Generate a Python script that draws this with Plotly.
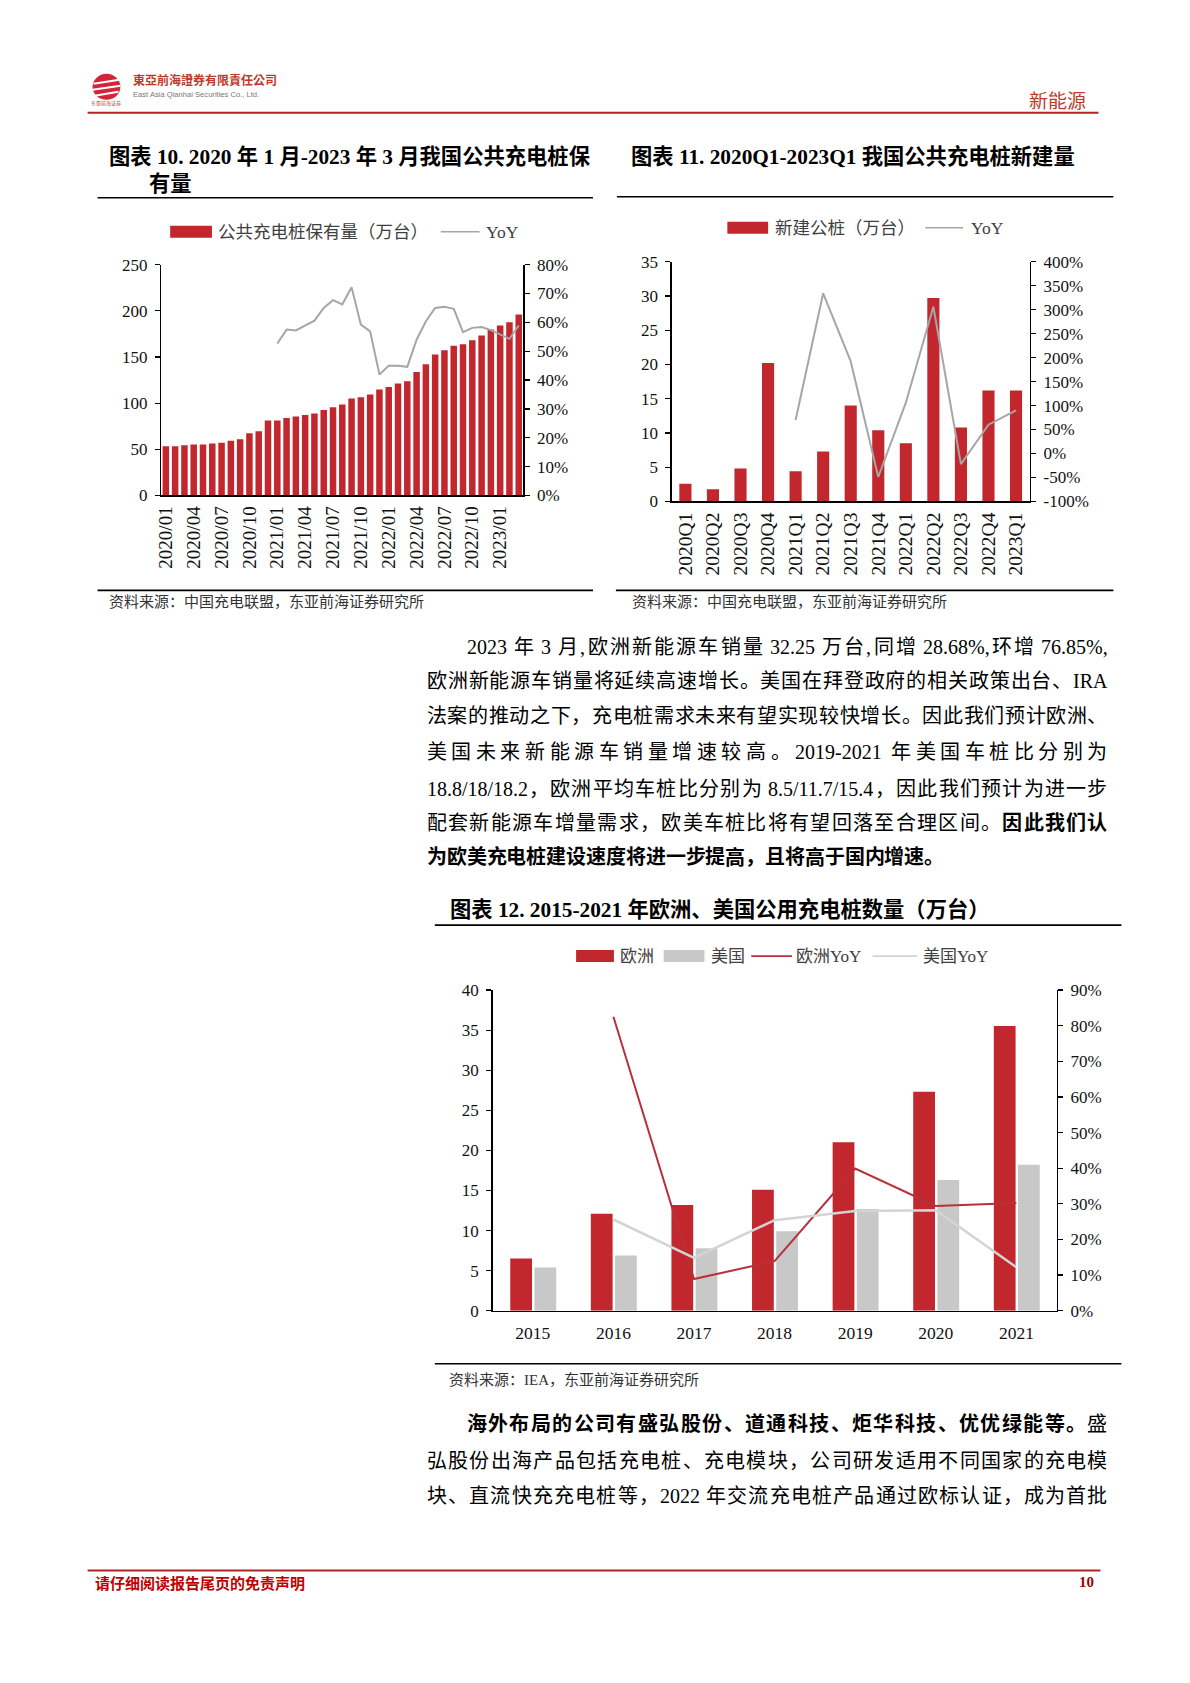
import plotly.graph_objects as go

W, H = 1190, 1683
def X(px): return (px - 4) / W
def Y(py):
    corr = -8 + (py - 113) * 0.0105
    return 1 - (py + corr) / H

SERIF = "Liberation Serif, Noto Sans CJK SC"
RED = "#C1272D"
GRAY_LINE = "#A6A6A6"

# ---------------- data: chart 10 ----------------
months = ["2020/01","2020/02","2020/03","2020/04","2020/05","2020/06","2020/07","2020/08","2020/09",
          "2020/10","2020/11","2020/12","2021/01","2021/02","2021/03","2021/04","2021/05","2021/06",
          "2021/07","2021/08","2021/09","2021/10","2021/11","2021/12","2022/01","2022/02","2022/03",
          "2022/04","2022/05","2022/06","2022/07","2022/08","2022/09","2022/10","2022/11","2022/12",
          "2023/01","2023/02","2023/03"]
month_ticks = ["2020/01","2020/04","2020/07","2020/10","2021/01","2021/04","2021/07","2021/10",
               "2022/01","2022/04","2022/07","2022/10","2023/01"]
pile_stock = [53.4,53.4,54.5,55.2,55.2,56.3,57.0,59.2,61.0,67.5,69.6,81.2,81.2,84.0,85.5,87.3,88.7,
              92.7,95.6,98.5,105.0,106.4,109.3,114.7,117.6,121.2,123.7,133.8,142.1,152.6,157.3,162.3,
              163.8,168.1,173.2,179.7,184.0,187.6,195.9]
pile_yoy = [None]*12 + [52.7,57.5,57.2,58.9,60.6,65.0,67.7,66.2,72.2,59.2,56.9,41.9,45.0,45.0,44.6,
                        54.0,60.4,65.0,65.4,64.7,56.6,58.1,58.4,57.3,55.8,54.3,58.9]
c10_left_ticks = [0, 50, 100, 150, 200, 250]
c10_right_ticks = [0, 10, 20, 30, 40, 50, 60, 70, 80]

# ---------------- data: chart 11 ----------------
quarters = ["2020Q1","2020Q2","2020Q3","2020Q4","2021Q1","2021Q2","2021Q3","2021Q4",
            "2022Q1","2022Q2","2022Q3","2022Q4","2023Q1"]
new_build = [2.6,1.8,4.8,20.2,4.4,7.3,14.0,10.4,8.5,29.7,10.8,16.2,16.2]
new_yoy = [None]*4 + [70,334,192,-49,106,306,-22,60,90]
c11_left_ticks = [0, 5, 10, 15, 20, 25, 30, 35]
c11_right_ticks = [-100, -50, 0, 50, 100, 150, 200, 250, 300, 350, 400]

# ---------------- data: chart 12 ----------------
years = ["2015","2016","2017","2018","2019","2020","2021"]
eu = [6.5,12.1,13.2,15.1,21.0,27.3,35.5]
us = [5.4,6.9,7.8,9.9,12.7,16.3,18.2]
eu_yoy = [None,82.5,8.9,13.9,39.9,29.4,30.2]
us_yoy = [None,25.6,14.8,25.4,28.0,28.2,12.2]
c12_left_ticks = [0, 5, 10, 15, 20, 25, 30, 35, 40]
c12_right_ticks = [0, 10, 20, 30, 40, 50, 60, 70, 80, 90]

fig = go.Figure()

# chart 10
fig.add_trace(go.Bar(x=months, y=pile_stock, marker_color=RED, marker_line_width=0, width=0.7,
                     xaxis="x", yaxis="y", showlegend=False, name="公共充电桩保有量（万台）"))
fig.add_trace(go.Scatter(x=months, y=pile_yoy, mode="lines", line=dict(color=GRAY_LINE, width=2),
                         xaxis="x", yaxis="y2", showlegend=False, name="YoY"))
# chart 11
fig.add_trace(go.Bar(x=quarters, y=new_build, marker_color=RED, marker_line_width=0, width=0.44,
                     xaxis="x2", yaxis="y3", showlegend=False, name="新建公桩（万台）"))
fig.add_trace(go.Scatter(x=quarters, y=new_yoy, mode="lines", line=dict(color=GRAY_LINE, width=2),
                         xaxis="x2", yaxis="y4", showlegend=False, name="YoY"))
# chart 12
fig.add_trace(go.Bar(x=years, y=eu, marker_color=RED, marker_line_width=0, width=0.27, offset=-0.28,
                     xaxis="x3", yaxis="y5", showlegend=False, name="欧洲"))
fig.add_trace(go.Bar(x=years, y=us, marker_color="#C8C8C8", marker_line_width=0, width=0.27, offset=0.02,
                     xaxis="x3", yaxis="y5", showlegend=False, name="美国"))
fig.add_trace(go.Scatter(x=years, y=eu_yoy, mode="lines", line=dict(color="#B8303A", width=2),
                         xaxis="x3", yaxis="y6", showlegend=False, name="欧洲YoY"))
fig.add_trace(go.Scatter(x=years, y=us_yoy, mode="lines", line=dict(color="#D4D4D4", width=2.5),
                         xaxis="x3", yaxis="y6", showlegend=False, name="美国YoY"))

def pct(v):
    return [f"{t}%" for t in v]

tf = dict(family=SERIF, size=17, color="#111")
ax_common = dict(showline=True, linecolor="#000", linewidth=1.3, showgrid=False, zeroline=False,
                 tickfont=tf, fixedrange=True)
yl = dict(ax_common, ticks="outside", ticklen=5, tickcolor="#000", tickwidth=1.2, ticklabelstandoff=4)

fig.update_layout(
    width=W, height=H, autosize=False, margin=dict(l=0, r=0, t=0, b=0),
    paper_bgcolor="white", plot_bgcolor="white", barmode="overlay", showlegend=False,
    xaxis=dict(ax_common, domain=[X(160), X(524)], anchor="y", type="category", range=[-0.5, 38.5],
               tickmode="array", tickvals=month_ticks, tickangle=-90, ticks="", ticklabelstandoff=2,
               tickfont=dict(family=SERIF, size=19, color="#111")),
    yaxis=dict(yl, domain=[Y(496), Y(265)], anchor="x", range=[0, 250], tickmode="array",
               tickvals=c10_left_ticks),
    yaxis2=dict(yl, overlaying="y", anchor="x", side="right", range=[0, 80], tickmode="array",
                tickvals=c10_right_ticks, ticktext=pct(c10_right_ticks)),
    xaxis2=dict(ax_common, domain=[X(673), X(1033)], anchor="y3", type="category", range=[-0.5, 12.5],
                tickangle=-90, ticks="", ticklabelstandoff=2,
                tickfont=dict(family=SERIF, size=19.5, color="#111")),
    yaxis3=dict(yl, domain=[Y(502), Y(262)], anchor="x2", range=[0, 35], tickmode="array",
                tickvals=c11_left_ticks),
    yaxis4=dict(yl, overlaying="y3", anchor="x2", side="right", range=[-100, 400], tickmode="array",
                tickvals=c11_right_ticks, ticktext=pct(c11_right_ticks)),
    xaxis3=dict(ax_common, domain=[X(493), X(1060)], anchor="y5", type="category", range=[-0.5, 6.5],
                tickangle=0, ticks="", ticklabelstandoff=6,
                tickfont=dict(family=SERIF, size=17.5, color="#111")),
    yaxis5=dict(yl, domain=[Y(1312), Y(991)], anchor="x3", range=[0, 40], tickmode="array",
                tickvals=c12_left_ticks),
    yaxis6=dict(yl, overlaying="y5", anchor="x3", side="right", range=[0, 90], tickmode="array",
                tickvals=c12_right_ticks, ticktext=pct(c12_right_ticks)),
)

shapes = []
annotations = []

def text(x, y, s, size, color="#000", family=SERIF, anchor="left"):
    annotations.append(dict(xref="paper", yref="paper", x=X(x), y=Y(y), text=s, showarrow=False,
                            xanchor=anchor, yanchor="middle", font=dict(size=size, color=color, family=family)))

def hline(x0, x1, y, color, width):
    shapes.append(dict(type="line", xref="paper", yref="paper", x0=X(x0), x1=X(x1), y0=Y(y), y1=Y(y),
                       line=dict(color=color, width=width)))

def rect(x0, y0, x1, y1, color):
    shapes.append(dict(type="rect", xref="paper", yref="paper", x0=X(x0), x1=X(x1), y0=Y(y0), y1=Y(y1),
                       fillcolor=color, line=dict(width=0)))

# ---- header ----
shapes.append(dict(type="circle", xref="paper", yref="paper", x0=X(91), x1=X(119), y0=Y(100), y1=Y(74),
                   fillcolor="#D5243A", line=dict(width=0)))
for (a, b) in [((92, 84), (118, 80)), ((91, 90), (119, 86)), ((93, 96), (117, 92))]:
    shapes.append(dict(type="line", xref="paper", yref="paper", x0=X(a[0]), y0=Y(a[1]), x1=X(b[0]), y1=Y(b[1]),
                       line=dict(color="white", width=2)))
text(105, 104, "东亚前海证券", 5, "#C0392B", anchor="center")
text(130, 80, "<b>東亞前海證券有限責任公司</b>", 12, "#C0392B", family="Noto Sans CJK TC")
text(130, 95, "East Asia Qianhai Securities Co., Ltd.", 7.6, "#777", family="Liberation Sans")
text(1030, 100, "新能源", 19, "#C0392B", family="Noto Sans CJK SC")
hline(86, 1102, 113, "#B22222", 2)

# ---- chart titles and rules ----
TS = 21.3
text(106, 157, "<b>图表 10. 2020 年 1 月-2023 年 3 月我国公共充电桩保</b>", TS)
text(146, 184, "<b>有量</b>", TS)
hline(96, 594, 198, "#000", 1.6)
text(630, 157, "<b>图表 11. 2020Q1-2023Q1 我国公共充电桩新建量</b>", TS)
hline(618, 1117, 197, "#000", 1.6)
hline(96, 594, 591, "#000", 1.6)
hline(617, 1117, 591, "#000", 1.6)
text(106, 603, "资料来源：中国充电联盟，东亚前海证券研究所", 15, "#333")
text(631, 603, "资料来源：中国充电联盟，东亚前海证券研究所", 15, "#333")

# legends chart 10 / 11
rect(169, 226, 211, 238, RED)
text(215, 232, "公共充电桩保有量（万台）", 17.5, "#404040")
hline(441, 480, 232, GRAY_LINE, 1.6)
text(484, 232, "YoY", 17.5, "#404040")
rect(729, 222, 770, 234, RED)
text(775, 228, "新建公桩（万台）", 17.5, "#404040")
hline(928, 966, 228, GRAY_LINE, 1.6)
text(972, 228, "YoY", 17.5, "#404040")

# chart 12 title, legend, rules
text(448, 910, "<b>图表 12. 2015-2021 年欧洲、美国公用充电桩数量（万台）</b>", TS)
hline(435, 1125, 926, "#000", 1.6)
rect(577, 951, 615, 963, RED)
text(619, 957, "欧洲", 17, "#404040")
rect(665, 951, 706, 963, "#C8C8C8")
text(711, 957, "美国", 17, "#404040")
hline(753, 794, 957, "#B8303A", 1.8)
text(796, 957, "欧洲YoY", 17, "#404040")
hline(875, 920, 957, "#D4D4D4", 1.8)
text(924, 957, "美国YoY", 17, "#404040")
hline(435, 1125, 1365, "#000", 1.6)
text(447, 1381, "资料来源：IEA，东亚前海证券研究所", 15, "#333")

# ---- body text (justified) ----
LAT = {'.': 0.25, ',': 0.25, '/': 0.278, '%': 0.833, '-': 0.333, 'I': 0.333, 'R': 0.667, 'A': 0.722}

def tokens_of(segments, size):
    toks = []
    pending = 0.0
    for s, bold in segments:
        for c in s:
            if c == " ":
                pending += 0.25 * size
                continue
            cjk = ord(c) > 0x2E80
            w = size if cjk else LAT.get(c, 0.5) * size
            if (not cjk and toks and not toks[-1]["cjk"] and pending == 0 and toks[-1]["bold"] == bold):
                toks[-1]["t"] += c
                toks[-1]["w"] += w
            else:
                toks.append(dict(t=c, w=w, cjk=cjk, bold=bold, sp=pending))
                pending = 0.0
    return toks

def para_line(segments, x0, x1, y, size=20, justify=True):
    toks = tokens_of(segments, size)
    natural = sum(t["w"] for t in toks) + sum(t["sp"] for t in toks[1:])
    extra = (x1 - x0 - natural) / (len(toks) - 1) if justify and len(toks) > 1 else 0
    x = x0
    for i, t in enumerate(toks):
        if i > 0:
            x += t["sp"] + extra
        s = f"<b>{t['t']}</b>" if t["bold"] else t["t"]
        text(x + t["w"] / 2, y, s, size, "#000", anchor="center")
        x += t["w"]

R = 1111
para_line([("2023 年 3 月,欧洲新能源车销量 32.25 万台,同增 28.68%,环增 76.85%,", False)], 467, R, 648)
para_line([("欧洲新能源车销量将延续高速增长。美国在拜登政府的相关政策出台、IRA", False)], 427, R, 682)
para_line([("法案的推动之下，充电桩需求未来有望实现较快增长。因此我们预计欧洲、", False)], 427, R, 717)
para_line([("美国未来新能源车销量增速较高。2019-2021 年美国车桩比分别为", False)], 427, R, 753)
para_line([("18.8/18/18.2，欧洲平均车桩比分别为 8.5/11.7/15.4，因此我们预计为进一步", False)], 427, R, 790)
para_line([("配套新能源车增量需求，欧美车桩比将有望回落至合理区间。", False), ("因此我们认", True)], 427, R, 824)
para_line([("为欧美充电桩建设速度将进一步提高，且将高于国内增速。", True)], 427, R, 858, justify=False)

para_line([("海外布局的公司有盛弘股份、道通科技、炬华科技、优优绿能等。", True), ("盛", False)], 467, R, 1425)
para_line([("弘股份出海产品包括充电桩、充电模块，公司研发适用不同国家的充电模", False)], 427, R, 1462)
para_line([("块、直流快充充电桩等，2022 年交流充电桩产品通过欧标认证，成为首批", False)], 427, R, 1497)

# ---- footer ----
hline(86, 1104, 1572, "#B22222", 2)
text(91, 1584, "<b>请仔细阅读报告尾页的免责声明</b>", 15, "#C00000", family="Noto Sans CJK SC")
text(1100, 1584, "<b>10</b>", 15, "#A00000", family="Liberation Serif", anchor="right")

fig.update_layout(shapes=shapes, annotations=annotations)
fig.write_html("out.html", config={"displayModeBar": False, "staticPlot": True},
               post_script="document.body.style.margin='0';document.body.style.padding='0';")
